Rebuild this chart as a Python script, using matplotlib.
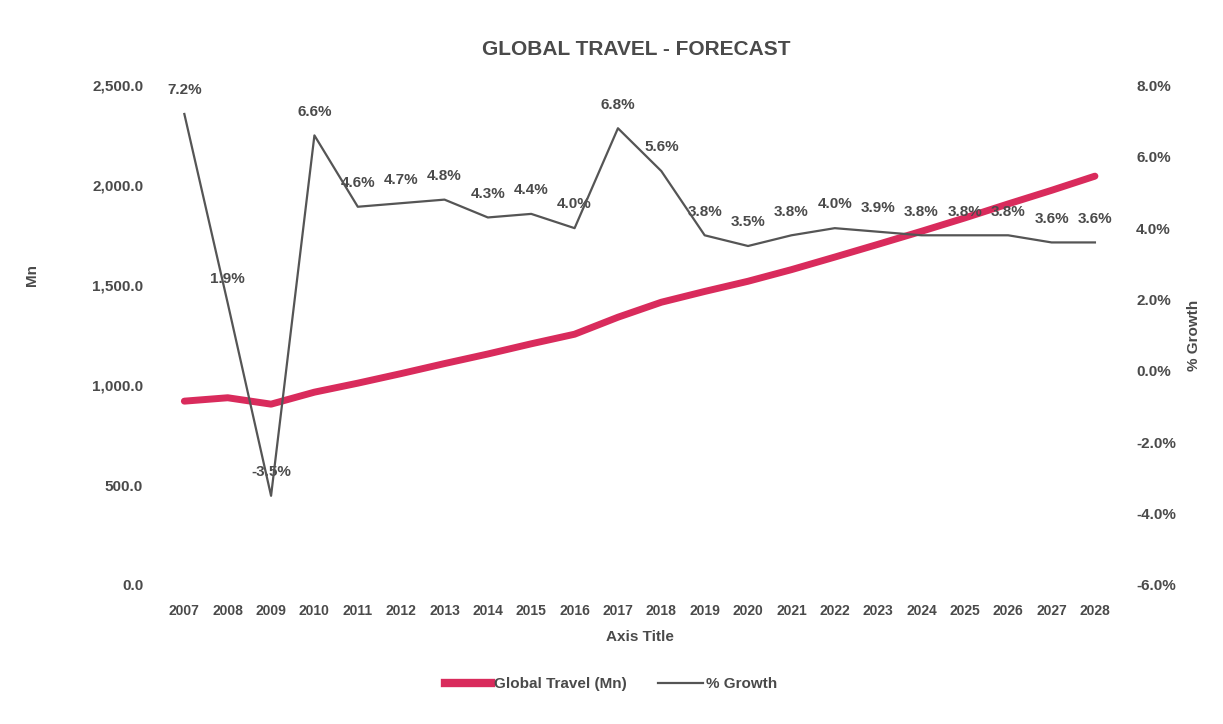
import matplotlib
matplotlib.use("Agg")
import matplotlib.pyplot as plt
from matplotlib.ticker import FuncFormatter, MultipleLocator
from matplotlib.lines import Line2D

# -----------------------------
# Datos
# -----------------------------
years = [str(y) for y in range(2007, 2029)]
travel_mn = [920, 937, 905, 965, 1010, 1058, 1108, 1156, 1207, 1255, 1340,
             1415, 1469, 1520, 1578, 1641, 1705, 1770, 1837, 1907, 1975, 2046]
growth_pct = [7.2, 1.9, -3.5, 6.6, 4.6, 4.7, 4.8, 4.3, 4.4, 4.0, 6.8,
              5.6, 3.8, 3.5, 3.8, 4.0, 3.9, 3.8, 3.8, 3.8, 3.6, 3.6]

TEXTO = "#4a4a4a"
ROSA = "#d92b5c"
GRIS = "#555555"

plt.rcParams["font.family"] = ["Liberation Sans", "DejaVu Sans"]
plt.rcParams["font.weight"] = "bold"

fig = plt.figure(figsize=(12.23, 7.24), dpi=100)
ax = fig.add_axes([0.133, 0.192, 0.78, 0.69])
ax2 = ax.twinx()

x = list(range(len(years)))

# -----------------------------
# Serie principal (eje izquierdo)
# -----------------------------
ax.plot(x, travel_mn, color=ROSA, linewidth=5, solid_capstyle="round", zorder=3)
ax.set_ylim(0, 2500)
ax.yaxis.set_major_locator(MultipleLocator(500))
ax.yaxis.set_major_formatter(FuncFormatter(lambda v, p: f"{v:,.1f}"))
ax.set_xlim(-0.5, len(years) - 0.5)
ax.set_xticks(x)
ax.set_xticklabels(years)
ax.set_xlabel("Axis Title", fontsize=11, color=TEXTO, fontweight="bold", labelpad=8)
ax.set_ylabel("Mn", fontsize=11, color=TEXTO, fontweight="bold")
ax.yaxis.set_label_coords(-0.13, 0.62)

# -----------------------------
# Crecimiento (eje derecho)
# -----------------------------
ax2.plot(x, growth_pct, color=GRIS, linewidth=1.6, zorder=4)
ax2.set_ylim(-6, 8)
ax2.yaxis.set_major_locator(MultipleLocator(2))
ax2.yaxis.set_major_formatter(FuncFormatter(lambda v, p: f"{v:.1f}%"))
ax2.set_ylabel("% Growth", fontsize=11, color=TEXTO, fontweight="bold",
               rotation=90, labelpad=8)

for xi, g in zip(x, growth_pct):
    ax2.annotate(f"{g:.1f}%", (xi, g), xytext=(0, 12), textcoords="offset points",
                 ha="center", va="bottom", fontsize=11, color=TEXTO,
                 fontweight="bold")

for a in (ax, ax2):
    for s in a.spines.values():
        s.set_visible(False)
    a.tick_params(length=0, labelsize=11, labelcolor=TEXTO)
ax.tick_params(axis="x", labelsize=10, pad=14)
ax.tick_params(axis="y", pad=14)
ax2.tick_params(axis="y", pad=14)

fig.suptitle("GLOBAL TRAVEL - FORECAST", x=0.52, y=0.945, fontsize=15,
             color=TEXTO, fontweight="bold")

# Leyenda abajo
handles = [Line2D([], [], color=ROSA, linewidth=6),
           Line2D([], [], color=GRIS, linewidth=1.6)]
fig.legend(handles, ["Global Travel (Mn)", "% Growth"], loc="center",
           bbox_to_anchor=(0.5, 0.055), ncol=2, frameon=False, fontsize=11,
           labelcolor=TEXTO, handlelength=3, handletextpad=0.2, columnspacing=2)

fig.savefig("out.png", dpi=100, facecolor="white")
